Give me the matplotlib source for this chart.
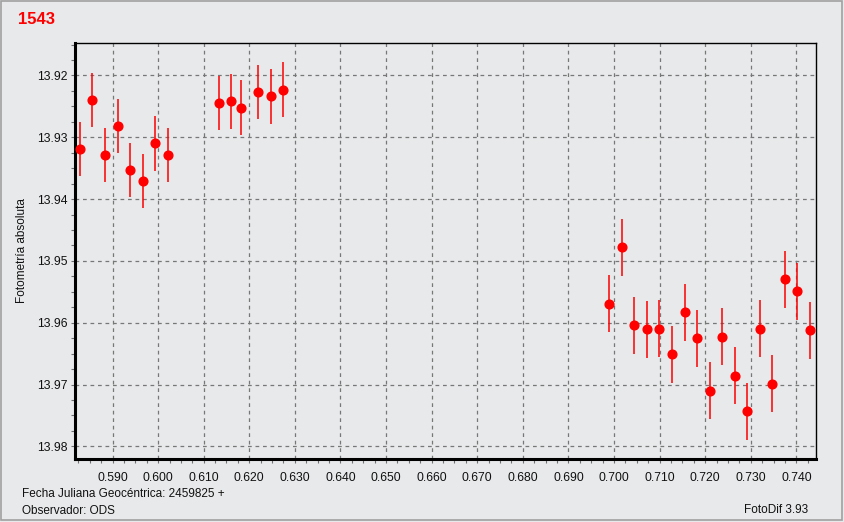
import matplotlib
matplotlib.use('Agg')
from matplotlib import pyplot as plt
from matplotlib.patches import Rectangle
from matplotlib.ticker import MultipleLocator, FormatStrFormatter

# fecha juliana (fraccion) y fotometria
jd = [0.58287, 0.58557, 0.58836, 0.59121, 0.59384, 0.59675, 0.59939, 0.60217,
      0.61336, 0.61599, 0.61818, 0.62191, 0.62476, 0.62739,
      0.69888, 0.70173, 0.70436, 0.70728, 0.70991, 0.71270, 0.71555, 0.71818,
      0.72103, 0.72366, 0.72651, 0.72914, 0.73199, 0.73463, 0.73748, 0.74011,
      0.74289]
mag = [13.9319, 13.9240, 13.9329, 13.9282, 13.9353, 13.9371, 13.9310, 13.9329,
       13.9245, 13.9242, 13.9252, 13.9227, 13.9234, 13.9223,
       13.9569, 13.9478, 13.9604, 13.9611, 13.9610, 13.9651, 13.9583, 13.9625,
       13.9710, 13.9623, 13.9686, 13.9743, 13.9610, 13.9699, 13.9530, 13.9549,
       13.9612]
err = [0.0044] * 14 + [0.0046] * 17

title = '1543'
ylabel = 'Fotometría absoluta'
xinfo = 'Fecha Juliana Geocéntrica: 2459825 +'
observer = 'Observador: ODS'
software = 'FotoDif 3.93'

BG = '#e8e9eb'
W, H = 844, 522

plt.rcParams['font.family'] = ['Liberation Sans', 'DejaVu Sans']

fig = plt.figure(figsize=(W / 100, H / 100), dpi=100, facecolor=BG)
ax = fig.add_axes([74.7 / W, 1 - 459.3 / H, (815.5 - 74.7) / W, (459.3 - 43.3) / H])
ax.set_facecolor(BG)

ax.errorbar(jd, mag, yerr=err, fmt='o', color='red', ecolor='red',
            elinewidth=1.1, markersize=6.3, capsize=0, zorder=3)

ax.set_xlim(0.58171, 0.74417)
ax.set_ylim(13.9821, 13.9148)

ax.xaxis.set_major_locator(MultipleLocator(0.01))
ax.xaxis.set_minor_locator(MultipleLocator(0.0025))
ax.yaxis.set_major_locator(MultipleLocator(0.01))
ax.yaxis.set_minor_locator(MultipleLocator(0.0025))
ax.xaxis.set_major_formatter(FormatStrFormatter('%.3f'))
ax.yaxis.set_major_formatter(FormatStrFormatter('%.2f'))

ax.tick_params(which='both', direction='out', length=3, width=0.8, color='#707070',
               labelsize=8.8, labelcolor='#111111')
ax.tick_params(axis='x', pad=6)
ax.tick_params(axis='y', pad=2)

ax.grid(True, which='major', color='#777777', linestyle=(0, (3, 3)), linewidth=0.9)
ax.set_axisbelow(True)

for side in ['left', 'bottom']:
    ax.spines[side].set_linewidth(2.2)
for side in ['top', 'right']:
    ax.spines[side].set_linewidth(1.0)

fig.text(18 / W, 1 - 19 / H, title, color='red', fontsize=12, fontweight='bold',
         va='center', ha='left')
fig.text(22 / W, 1 - 251 / H, ylabel, rotation=90, fontsize=8.5,
         va='center', ha='center', color='#111111')
fig.text(22 / W, 1 - 494 / H, xinfo, fontsize=8.5, va='center', ha='left', color='#111111')
fig.text(22 / W, 1 - 511 / H, observer, fontsize=8.5, va='center', ha='left', color='#111111')
fig.text(808 / W, 1 - 510 / H, software, fontsize=8.5, va='center', ha='right', color='#111111')

# marco exterior
fig.patches.append(Rectangle((0.5 / W, 1 - 519.5 / H), 841 / W, 519 / H,
                             transform=fig.transFigure, fill=False,
                             edgecolor='#a0a0a0', linewidth=1.2))

fig.savefig('out.png', dpi=100, facecolor=BG)
